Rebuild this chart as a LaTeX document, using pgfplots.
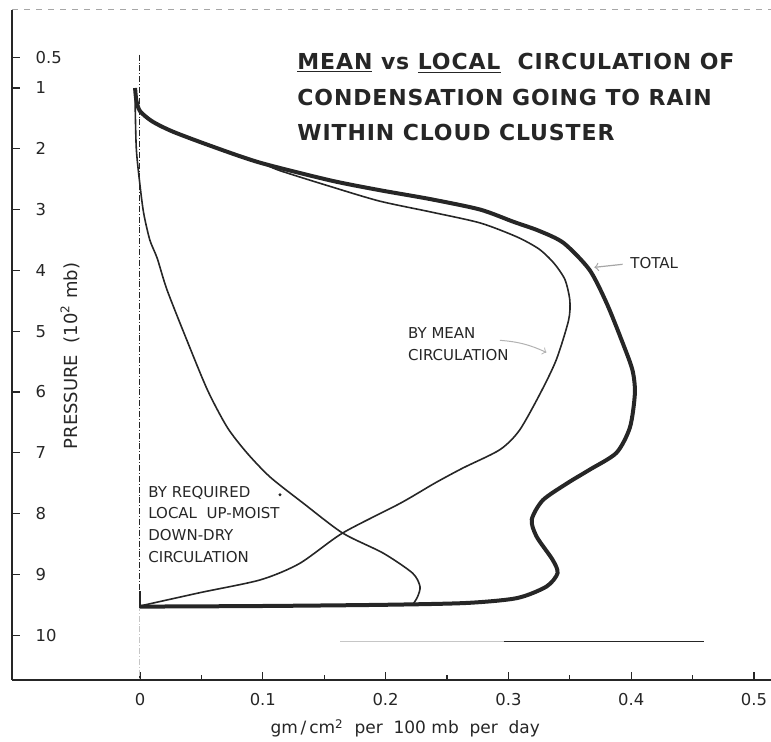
\documentclass[border=0pt]{standalone}
\usepackage{fontspec}
\setmainfont{DejaVu Sans}
\usepackage{pgfplots}
\pgfplotsset{compat=1.18}
\definecolor{ink}{HTML}{262626}
\tikzset{lbl/.style={anchor=west, inner sep=0pt, text=ink, font=\fontsize{7.5}{8}\selectfont},
         ytl/.style={anchor=west, inner sep=0pt, text=ink, font=\fontsize{8.2}{9}\selectfont},
         ttl/.style={anchor=west, inner sep=0pt, text=ink, font=\fontsize{11}{13}\selectfont\bfseries\addfontfeature{LetterSpace=4}}}
\begin{document}
\begin{tikzpicture}
\begin{axis}[
  scale only axis, width=379.5pt, height=335pt,
  xmin=-0.10423, xmax=0.51384, ymin=-10.737, ymax=0.2829,
  axis x line*=bottom, axis y line*=left,
  axis line style={ink, line width=0.8pt},
  tick align=inside, major tick length=4pt, minor tick length=2.5pt,
  tick style={ink, line width=0.6pt},
  xtick={0,0.1,0.2,0.3,0.4,0.5}, xticklabels={0,0.1,0.2,0.3,0.4,0.5},
  minor xtick={0.05,0.15,0.25,0.35,0.45},
  ytick={-10,-9,-8,-7,-6,-5,-4,-3,-2,-1,-0.5},
  yticklabels={},
  ticklabel style={font=\fontsize{8.2}{9}\selectfont, text=ink},
  xticklabel style={yshift=-3pt},
  clip=false,
]
\coordinate (BL) at (rel axis cs:0,0);
\coordinate (TR) at (rel axis cs:1,1);
% y tick labels (inside the frame)
\node[ytl] at (axis cs:-0.0853,-0.5) {0.5};
\node[ytl] at (axis cs:-0.0853,-1) {1};
\node[ytl] at (axis cs:-0.0853,-2) {2};
\node[ytl] at (axis cs:-0.0853,-3) {3};
\node[ytl] at (axis cs:-0.0853,-4) {4};
\node[ytl] at (axis cs:-0.0853,-5) {5};
\node[ytl] at (axis cs:-0.0853,-6) {6};
\node[ytl] at (axis cs:-0.0853,-7) {7};
\node[ytl] at (axis cs:-0.0853,-8) {8};
\node[ytl] at (axis cs:-0.0853,-9) {9};
\node[ytl] at (axis cs:-0.0853,-10) {10};
% top dashed frame
\draw[gray!70, dashed, line width=0.5pt] (rel axis cs:0,1) -- (rel axis cs:1,1);
% reference lines
\addplot[ink, densely dashdotted, line width=0.5pt] coordinates {(0,-0.45) (0,-9.5)};
\addplot[gray!45, densely dashdotted, line width=0.5pt] coordinates {(0,-9.5) (0,-10.737)};
\addplot[gray!45, line width=0.5pt] coordinates {(0.163,-10.11) (0.296,-10.11)};
\addplot[ink, line width=0.6pt] coordinates {(0.296,-10.11) (0.459,-10.11)};
\addplot[ink, line width=0.8pt] coordinates {(0,-9.28) (0,-9.55)};
% total
\addplot[ink, line width=2pt, smooth, tension=0.45] coordinates {
(-0.004,-1.0) (-0.003,-1.2) (0.0,-1.38) (0.01,-1.55) (0.027,-1.72) (0.06,-1.97)
(0.098,-2.23) (0.155,-2.52) (0.195,-2.68) (0.237,-2.83) (0.277,-3.0) (0.304,-3.2)
(0.325,-3.35) (0.345,-3.55) (0.366,-3.99) (0.380,-4.54) (0.393,-5.19) (0.401,-5.64)
(0.403,-6.02) (0.399,-6.58) (0.388,-7.0) (0.366,-7.28) (0.348,-7.5) (0.328,-7.78)
(0.319,-8.1) (0.323,-8.38) (0.336,-8.76) (0.340,-8.98) (0.331,-9.2) (0.307,-9.39)
(0.266,-9.47) (0.2,-9.5) (0.1,-9.52) (0.0,-9.53)};
% mean
\addplot[ink, line width=0.8pt, smooth, tension=0.45] coordinates {
(0.0,-1.38) (0.01,-1.55) (0.027,-1.72) (0.06,-1.97) (0.098,-2.23) (0.114,-2.36)
(0.155,-2.62) (0.195,-2.86) (0.237,-3.04) (0.277,-3.22) (0.307,-3.45) (0.325,-3.65)
(0.337,-3.88) (0.346,-4.15) (0.350,-4.49) (0.349,-4.82) (0.339,-5.47) (0.326,-6.02)
(0.309,-6.63) (0.293,-6.95) (0.263,-7.25) (0.240,-7.5) (0.212,-7.83) (0.165,-8.32)
(0.130,-8.82) (0.098,-9.09) (0.049,-9.3) (0.0,-9.52)};
% local
\addplot[ink, line width=0.8pt, smooth, tension=0.45] coordinates {
(-0.004,-1.2) (-0.003,-2.0) (0.0,-2.6) (0.003,-3.06) (0.008,-3.5) (0.014,-3.8)
(0.022,-4.32) (0.038,-5.14) (0.055,-5.97) (0.071,-6.58) (0.087,-7.0) (0.106,-7.4)
(0.133,-7.83) (0.165,-8.32) (0.198,-8.65) (0.222,-8.98) (0.228,-9.2) (0.226,-9.37)
(0.222,-9.5)};
% texts
\node[ttl] at (axis cs:0.1279,-0.589) {\underline{MEAN} vs \underline{LOCAL}\ \ CIRCULATION OF};
\node[ttl] at (axis cs:0.1279,-1.164) {CONDENSATION GOING TO RAIN};
\node[ttl] at (axis cs:0.1279,-1.724) {WITHIN CLOUD CLUSTER};
\node[lbl] at (axis cs:0.399,-3.88) {TOTAL};
\draw[->, gray!70, line width=0.6pt] (axis cs:0.393,-3.9) -- (axis cs:0.370,-3.95);
\node[lbl] at (axis cs:0.218,-5.03) {BY MEAN};
\node[lbl] at (axis cs:0.218,-5.39) {CIRCULATION};
\draw[->, gray!60, line width=0.5pt] (axis cs:0.293,-5.15) to[bend left=10] (axis cs:0.331,-5.35);
\node[lbl] at (axis cs:0.0065,-7.66) {BY REQUIRED};
\node[lbl] at (axis cs:0.0065,-7.99) {LOCAL \ UP-MOIST};
\node[lbl] at (axis cs:0.0065,-8.35) {DOWN-DRY};
\node[lbl] at (axis cs:0.0065,-8.71) {CIRCULATION};
\fill[ink] (axis cs:0.114,-7.69) circle (0.8pt);
\node[rotate=90, text=ink, font=\fontsize{9}{10}\selectfont] at (axis cs:-0.057,-5.41) {PRESSURE \ (10\textsuperscript{2} mb)};
\node[text=ink, font=\fontsize{8.5}{10}\selectfont] at (axis cs:0.216,-11.53) {gm\,/\,cm\textsuperscript{2} \ per \ 100 mb \ per \ day};
\end{axis}
\pgfresetboundingbox
\path[use as bounding box] ([shift={(-6pt,-31pt)}]BL) rectangle ([shift={(0pt,5pt)}]TR);
\end{tikzpicture}
\end{document}
